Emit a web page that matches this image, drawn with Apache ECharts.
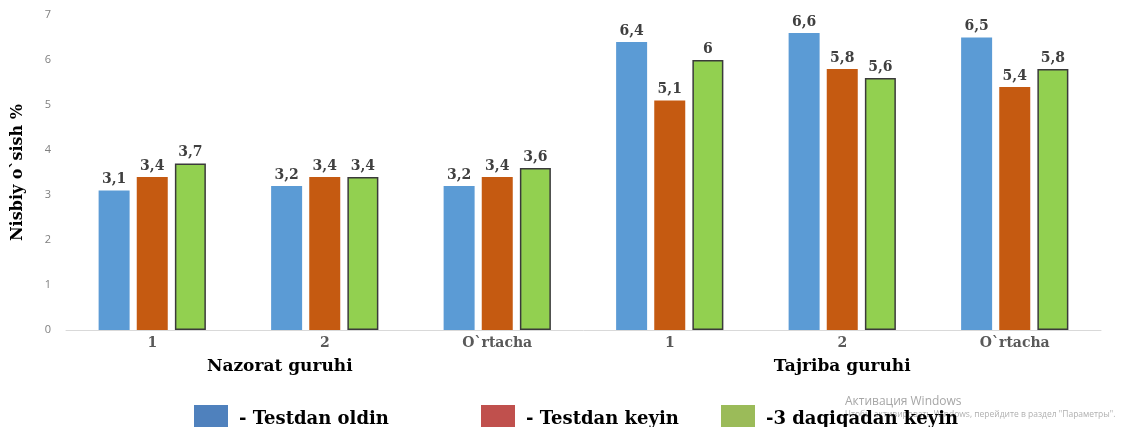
<!DOCTYPE html>
<html>
<head>
<meta charset="utf-8">
<script src="https://cdn.jsdelivr.net/npm/echarts@6/dist/echarts.min.js"></script>
<style>html,body{margin:0;padding:0;background:#fff;}#c{width:1135px;height:427px;}</style>
</head>
<body>
<div id="c"></div>
<script>
const categories = ['1', '2', 'O`rtacha', '1', '2', 'O`rtacha'];
const groups = ['Nazorat guruhi', 'Tajriba guruhi'];
const seriesNames = ['- Testdan oldin', '- Testdan keyin', '-3 daqiqadan keyin'];
const testdanOldin = [3.1, 3.2, 3.2, 6.4, 6.6, 6.5];
const testdanKeyin = [3.4, 3.4, 3.4, 5.1, 5.8, 5.4];
const uchDaqiqadanKeyin = [3.7, 3.4, 3.6, 6.0, 5.6, 5.8];
const yTicks = [0, 1, 2, 3, 4, 5, 6, 7];

const serif = '"DejaVu Serif", "Liberation Serif", serif';
const barColors = ['#5B9BD5', '#C55A11', '#92D050'];
const legendColors = ['#4F81BD', '#C0504D', '#9BBB59'];
const legendLefts = [194, 481, 721];

const lbl = {
  show: true, position: 'top', distance: 4,
  fontFamily: serif, fontWeight: 'bold', fontSize: 14, color: '#404040',
  formatter: p => String(p.value).replace('.', ',')
};

const groupRich = {
  g0: { fontFamily: serif, fontWeight: 'bold', fontSize: 17, color: '#000', padding: [0, 90, 0, 0] },
  g1: { fontFamily: serif, fontWeight: 'bold', fontSize: 17, color: '#000', padding: [0, 0, 0, 0] }
};

const chart = echarts.init(document.getElementById('c'));
const dataArr = [testdanOldin, testdanKeyin, uchDaqiqadanKeyin];
chart.setOption({
  animation: false,
  grid: { left: 66, right: 34, top: 15, bottom: 97 },
  legend: seriesNames.map((n, i) => ({
    left: legendLefts[i], top: 405, padding: 0, icon: 'rect', itemWidth: 34, itemHeight: 28, itemGap: 10,
    data: [{ name: n, itemStyle: { color: legendColors[i], borderWidth: 0 } }],
    textStyle: { fontFamily: serif, fontWeight: 'bold', fontSize: 18, color: '#000', padding: [0, 0, 0, 6] },
    selectedMode: false
  })),
  xAxis: [
    {
      type: 'category', data: categories,
      axisLine: { lineStyle: { color: '#d9d9d9', width: 1 } },
      axisTick: { show: false },
      axisLabel: { margin: 6, fontFamily: serif, fontWeight: 'bold', fontSize: 14, color: '#595959' }
    },
    {
      type: 'category', data: groups, position: 'bottom',
      axisLine: { show: false }, axisTick: { show: false },
      axisLabel: {
        margin: 28,
        formatter: (v, idx) => '{g' + idx + '|' + v + '}',
        rich: groupRich
      }
    }
  ],
  yAxis: {
    type: 'value', min: yTicks[0], max: yTicks[yTicks.length - 1], interval: 1,
    name: 'Nisbiy o`sish %', nameLocation: 'middle', nameGap: 40, nameRotate: 90,
    nameTextStyle: { fontFamily: serif, fontWeight: 'bold', fontSize: 16, color: '#000' },
    splitLine: { show: false },
    axisLine: { show: false }, axisTick: { show: false },
    axisLabel: { margin: 15, fontFamily: '"Open Sans", sans-serif', fontSize: 11, color: '#7f7f7f' }
  },
  series: dataArr.map((d, i) => ({
    name: seriesNames[i], type: 'bar', xAxisIndex: 0, data: d,
    barWidth: 31, barGap: '23%',
    itemStyle: i === 2 ? { color: barColors[i], borderColor: '#3a3a3a', borderWidth: 1.5 } : { color: barColors[i] },
    label: lbl
  })),
  graphic: [
    { type: 'text', left: 845, top: 396, style: { text: 'Активация Windows', fontFamily: '"Open Sans", sans-serif', fontSize: 12, fill: '#a6a6a6' }, silent: true },
    { type: 'text', left: 845, top: 410, style: { text: 'Чтобы активировать Windows, перейдите в раздел "Параметры".', fontFamily: '"Open Sans", sans-serif', fontSize: 8.5, fill: '#b0b0b0' }, silent: true }
  ]
});
</script>
</body>
</html>
